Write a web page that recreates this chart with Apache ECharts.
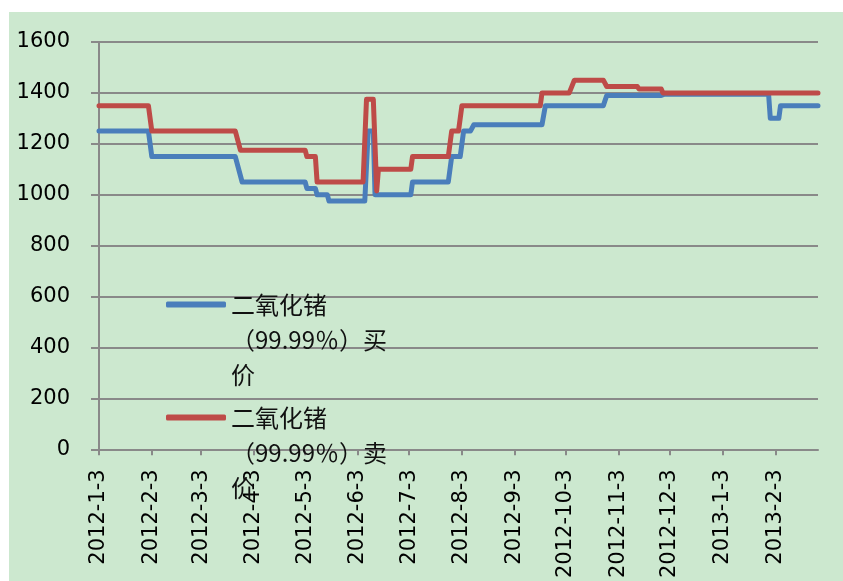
<!DOCTYPE html>
<html>
<head>
<meta charset="utf-8">
<script src="https://cdn.jsdelivr.net/npm/echarts@6/dist/echarts.min.js"></script>
<style>
html,body{margin:0;padding:0;background:#ffffff;}
#chart{position:absolute;left:9px;top:12px;width:834px;height:569px;}
</style>
</head>
<body>
<div id="chart"></div>
<script>
// ---- data ----
const seriesNames = ['二氧化锗（99.99％）买价', '二氧化锗（99.99％）卖价'];
const buyDates = ['2012-1-3','2012-2-1','2012-2-3','2012-3-23','2012-3-27','2012-5-3','2012-5-4','2012-5-9','2012-5-10','2012-5-16','2012-5-17','2012-6-7','2012-6-9','2012-6-12','2012-6-13','2012-7-4','2012-7-5','2012-7-26','2012-7-28','2012-8-2','2012-8-4','2012-8-8','2012-8-10','2012-9-19','2012-9-21','2012-10-25','2012-10-27','2012-11-28','2012-11-30','2013-1-30','2013-1-31','2013-2-5','2013-2-6','2013-2-28'];
const buyPrices = [1250,1250,1150,1150,1050,1050,1025,1025,1000,1000,975,975,1250,1250,1000,1000,1050,1050,1150,1150,1250,1250,1275,1275,1350,1350,1390,1390,1395,1395,1300,1300,1350,1350];
const sellDates = ['2012-1-3','2012-2-1','2012-2-3','2012-3-23','2012-3-26','2012-5-3','2012-5-4','2012-5-9','2012-5-10','2012-6-6','2012-6-8','2012-6-12','2012-6-14','2012-6-15','2012-7-4','2012-7-5','2012-7-26','2012-7-28','2012-8-1','2012-8-3','2012-9-18','2012-9-19','2012-10-5','2012-10-8','2012-10-25','2012-10-27','2012-11-14','2012-11-15','2012-11-28','2012-11-29','2013-2-28'];
const sellPrices = [1350,1350,1250,1250,1175,1175,1150,1150,1050,1050,1375,1375,1015,1100,1100,1150,1150,1250,1250,1350,1350,1400,1400,1450,1450,1425,1425,1415,1415,1400,1400];
const tickDates = ['2012-1-3','2012-2-3','2012-3-3','2012-4-3','2012-5-3','2012-6-3','2012-7-3','2012-8-3','2012-9-3','2012-10-3','2012-11-3','2012-12-3','2013-1-3','2013-2-3'];
const axisStart = '2012-1-3';
const axisEnd = '2013-2-28';

function ts(s){ const p = s.split('-').map(Number); return new Date(p[0], p[1]-1, p[2]).getTime(); }
function fmt(v){ const d = new Date(v); return d.getFullYear() + '-' + (d.getMonth()+1) + '-' + d.getDate(); }
function pairs(ds, vs){ return ds.map((d,i)=>[ts(d), vs[i]]); }

const gray = '#898989';
const chart = echarts.init(document.getElementById('chart'));
// wrap legend names like the original (icon beside first line)
const legendText = n => '\n\n' + n.replace('锗','锗\n').replace(/(买|卖)价/, '$1\n价');
function legendAt(name, top){
  return {
    data:[name], left:152, top:top, orient:'vertical', icon:'roundRect',
    itemWidth:60, itemHeight:6, itemGap:0,
    formatter: legendText,
    textStyle:{fontFamily:'"Noto Sans CJK SC", sans-serif', fontSize:24, color:'#111', lineHeight:35}
  };
}
chart.setOption({
  backgroundColor:'#CCE8CF',
  animation:false,
  grid:{left:90, top:30, right:25, bottom:130, containLabel:false},
  legend:[legendAt(seriesNames[0], 200), legendAt(seriesNames[1], 313)],
  xAxis:{
    type:'value', min:ts(axisStart), max:ts(axisEnd), scale:true,
    axisLine:{lineStyle:{color:gray, width:2}},
    axisTick:{show:true, length:6, customValues: tickDates.map(ts), lineStyle:{color:gray, width:2}},
    axisLabel:{customValues: tickDates.map(ts), formatter: v => fmt(v), rotate:90, margin:20,
      fontFamily:'"DejaVu Sans", sans-serif', fontSize:21, color:'#000'},
    splitLine:{show:false}
  },
  yAxis:{
    type:'value', min:0, max:1600, interval:200,
    axisLine:{show:true, lineStyle:{color:gray, width:2}},
    axisTick:{show:true, length:8, lineStyle:{color:gray, width:2}},
    axisLabel:{margin:29, formatter: v => String(v), fontFamily:'"DejaVu Sans", sans-serif', fontSize:21, color:'#000'},
    splitLine:{lineStyle:{color:gray, width:2}}
  },
  series:[
    {name:seriesNames[0], type:'line', data:pairs(buyDates, buyPrices), symbol:'none', color:'#4A7EBB',
      lineStyle:{width:5, color:'#4A7EBB', cap:'round', join:'round'}},
    {name:seriesNames[1], type:'line', data:pairs(sellDates, sellPrices), symbol:'none', color:'#BE4B48',
      lineStyle:{width:5, color:'#BE4B48', cap:'round', join:'round'}}
  ]
});
</script>
</body>
</html>
